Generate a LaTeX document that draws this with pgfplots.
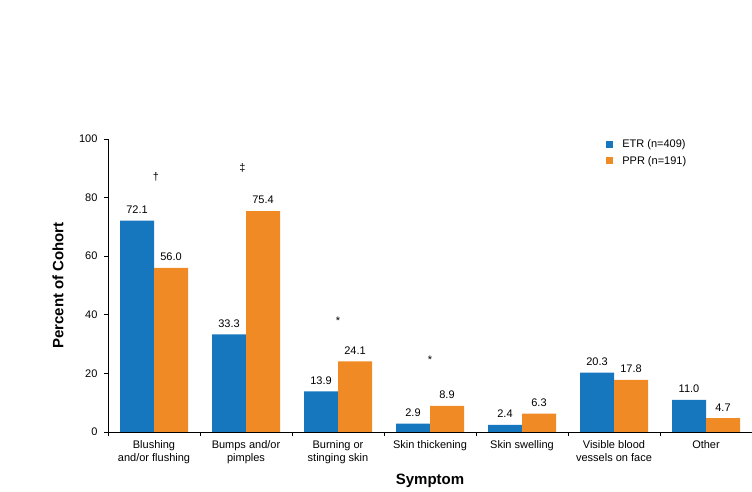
\documentclass[border=0pt]{standalone}
\usepackage{pgfplots}
\pgfplotsset{compat=1.18}
\usepackage{fontspec}
\setmainfont{Liberation Sans}
\definecolor{etr}{RGB}{23,119,190}
\definecolor{ppr}{RGB}{240,138,36}
\begin{document}
\begin{tikzpicture}
\useasboundingbox (-108bp,-60bp) rectangle (644bp,432bp);
\begin{axis}[
  at={(0,0)}, anchor=south west,
  scale only axis, width=644bp, height=293bp,
  xmin=-0.5, xmax=6.5, ymin=0, ymax=100,
  ybar=0pt, bar width=34bp,
  axis x line*=bottom, axis y line*=left,
  axis line style={black, line width=0.8bp, -},
  ytick={0,20,...,100},
  y tick style={black, line width=0.8bp},
  tick align=outside, major tick length=4bp,
  xtick={0,...,6},
  x tick style={draw=none},
  xticklabels={{Blushing\\and/or flushing},{Bumps and/or\\pimples},{Burning or\\stinging skin},{Skin thickening},{Skin swelling},{Visible blood\\vessels on face},{Other}},
  x tick label style={align=center, font=\fontsize{11bp}{13bp}\selectfont, anchor=north, yshift=-1bp},
  y tick label style={font=\fontsize{11bp}{13bp}\selectfont, xshift=-3bp},
  /pgf/number format/assume math mode=true,
  extra x ticks={-0.5,0.5,...,6.5},
  extra x tick labels={},
  extra x tick style={x tick style={draw=black, line width=0.8bp}},
  ylabel={\bfseries Percent of Cohort},
  ylabel style={font=\fontsize{15bp}{17bp}\selectfont, at={(axis description cs:-0.0776,0.5)}, anchor=center},
  xlabel={\bfseries Symptom},
  xlabel style={font=\fontsize{15bp}{17bp}\selectfont, at={(axis description cs:0.5,0)}, anchor=center, yshift=-49bp},
  nodes near coords,
  nodes near coords style={font=\fontsize{11bp}{13bp}\selectfont, yshift=3.5bp, /pgf/number format/fixed, /pgf/number format/fixed zerofill, /pgf/number format/precision=1, /pgf/number format/assume math mode=true},
  legend style={at={(0.7735,1.005)}, anchor=north west, draw=none, fill=none, font=\fontsize{11bp}{13bp}\selectfont, row sep=3bp, inner sep=0pt, /tikz/every odd column/.append style={column sep=7bp}},
  legend cell align=left,
  legend image code/.code={\fill[#1] (0bp,-3.5bp) rectangle (7bp,3.5bp);},
]
\addplot[draw=none, fill=etr] coordinates {(0,72.1) (1,33.3) (2,13.9) (3,2.9) (4,2.4) (5,20.3) (6,11.0)};
\addlegendentry{ETR (n=409)}
\addplot[draw=none, fill=ppr] coordinates {(0,56.0) (1,75.4) (2,24.1) (3,8.9) (4,6.3) (5,17.8) (6,4.7)};
\addlegendentry{PPR (n=191)}
\node[font=\fontsize{11bp}{13bp}\selectfont] at (axis cs:0.02,87) {†};
\node[font=\fontsize{11bp}{13bp}\selectfont] at (axis cs:0.96,90) {‡};
\node[font=\fontsize{11bp}{13bp}\selectfont] at (axis cs:2,38) {*};
\node[font=\fontsize{11bp}{13bp}\selectfont] at (axis cs:3,24.5) {*};
\end{axis}
\end{tikzpicture}
\end{document}
